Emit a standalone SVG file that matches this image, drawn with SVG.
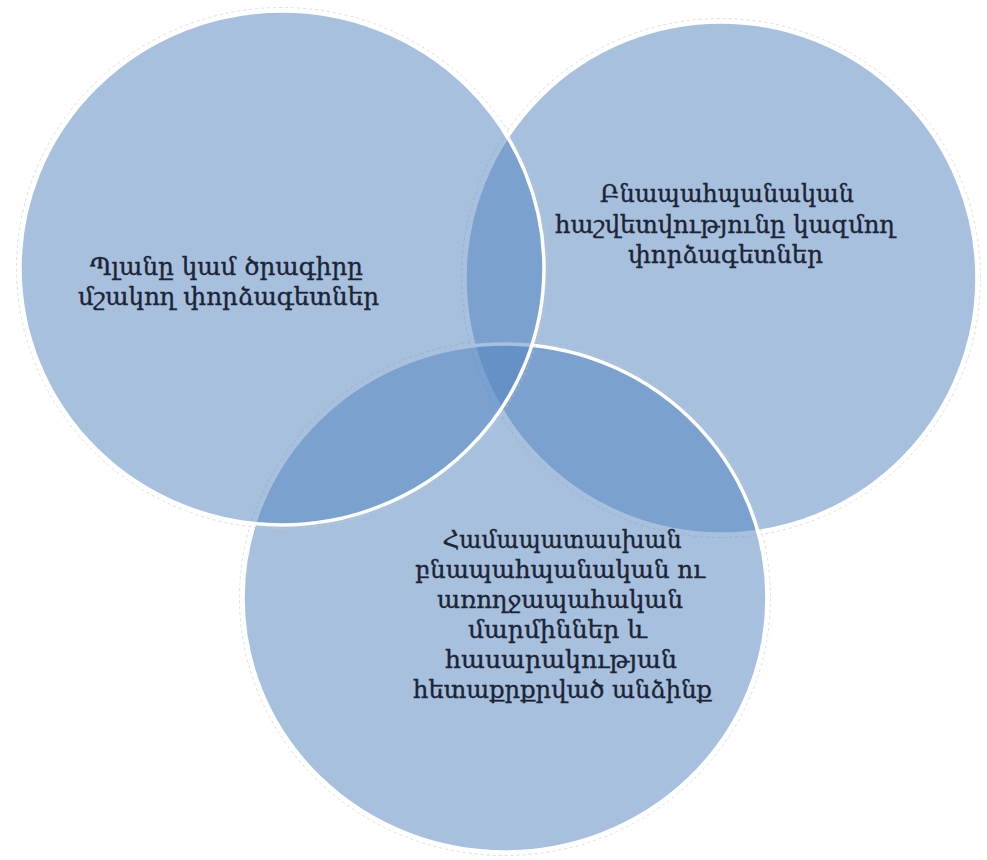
<svg xmlns="http://www.w3.org/2000/svg" width="987" height="860" viewBox="0 0 987 860">
  <defs>
    <style>
      .disc { fill: #4F81BD; fill-opacity: 0.5; stroke: #FFFFFF; stroke-width: 3.5; }
      .halo { fill: none; stroke: #C9C9C9; stroke-width: 1; stroke-dasharray: 3 3; stroke-opacity: 0.6; }
      .lbl { font-family: "DejaVu Serif", "DejaVu Sans", serif; font-size: 23.5px; fill: #1C2435; stroke: #1C2435; stroke-width: 0.35; text-anchor: middle; }
    </style>
  </defs>
  <rect width="987" height="860" fill="#FFFFFF"/>
  <g id="connectors"/>
  <g id="node-2">
    <ellipse class="halo" cx="721" cy="278" rx="259.5" ry="259.5"/>
    <ellipse class="disc" cx="721" cy="278" rx="256" ry="256"/>
    <text class="lbl" x="727" y="202" textLength="254" lengthAdjust="spacingAndGlyphs">Բնապահպանական</text>
    <text class="lbl" x="725" y="233" textLength="340" lengthAdjust="spacingAndGlyphs">հաշվետվությունը կազմող</text>
    <text class="lbl" x="725.5" y="263" textLength="195" lengthAdjust="spacingAndGlyphs">փորձագետներ</text>
  </g>
  <g id="node-3">
    <ellipse class="halo" cx="505" cy="598" rx="265.5" ry="257.5"/>
    <ellipse class="disc" cx="505" cy="598" rx="262" ry="254"/>
    <text class="lbl" x="562" y="548" textLength="239" lengthAdjust="spacingAndGlyphs">Համապատասխան</text>
    <text class="lbl" x="560" y="578" textLength="290" lengthAdjust="spacingAndGlyphs">բնապահպանական ու</text>
    <text class="lbl" x="560" y="608" textLength="246" lengthAdjust="spacingAndGlyphs">առողջապահական</text>
    <text class="lbl" x="557.5" y="638" textLength="179" lengthAdjust="spacingAndGlyphs">մարմիններ և</text>
    <text class="lbl" x="561" y="668" textLength="232" lengthAdjust="spacingAndGlyphs">հասարակության</text>
    <text class="lbl" x="562.5" y="698" textLength="299" lengthAdjust="spacingAndGlyphs">հետաքրքրված անձինք</text>
  </g>
  <g id="node-1">
    <ellipse class="halo" cx="282" cy="268" rx="265.5" ry="260.5"/>
    <ellipse class="disc" cx="282" cy="268" rx="262" ry="257"/>
    <text class="lbl" x="226.5" y="275" textLength="273" lengthAdjust="spacingAndGlyphs">Պլանը կամ ծրագիրը</text>
    <text class="lbl" x="228.5" y="305" textLength="301" lengthAdjust="spacingAndGlyphs">մշակող փորձագետներ</text>
  </g>
</svg>
